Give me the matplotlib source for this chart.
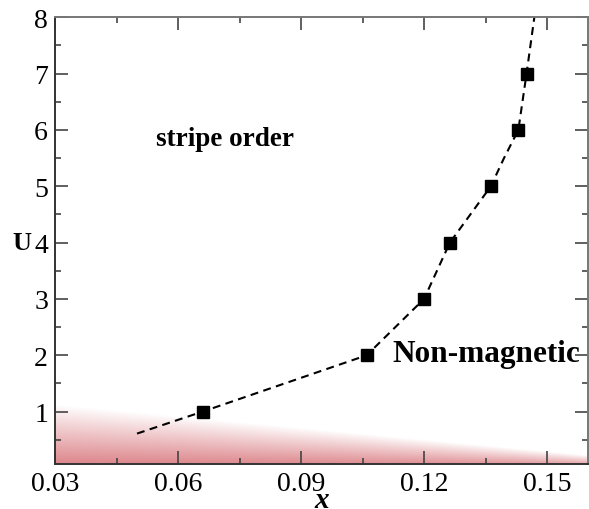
import matplotlib
matplotlib.use("Agg")
import matplotlib.pyplot as plt
import numpy as np
from matplotlib.ticker import MultipleLocator

# phase boundary data
x_pts = [0.066, 0.106, 0.120, 0.1263, 0.1363, 0.1430, 0.1450]
u_pts = [1, 2, 3, 4, 5, 6, 7]

# dashed guide line
line_x = [0.050, 0.066, 0.106, 0.120, 0.1263, 0.1363, 0.1395, 0.1430, 0.1450, 0.1469]
line_u = [0.61, 1.0, 2.0, 3.0, 4.0, 5.0, 5.5, 6.0, 7.0, 8.0]

# shaded low-U region: top edge of the red fade
shade_x = [0.03, 0.16]
shade_top = [1.12, 0.22]

plt.rcParams["font.family"] = ["Liberation Serif", "DejaVu Serif"]

fig = plt.figure(figsize=(5.89, 5.10), dpi=100)
ax = fig.add_axes([0.0934, 0.0882, 0.905, 0.876])

xlim = (0.03, 0.16)
ylim = (0.07, 8.0)

# red gradient underlay
gx = np.linspace(xlim[0], xlim[1], 400)
gy = np.linspace(0, 1.3, 300)
X, Y = np.meshgrid(gx, gy)
top = np.interp(X, shade_x, shade_top)
frac = np.clip(1 - Y / top, 0, 1)
rgba = np.zeros(X.shape + (4,))
rgba[..., 0] = 0.80
rgba[..., 1] = 0.30
rgba[..., 2] = 0.33
rgba[..., 3] = 0.72 * frac ** 0.95
ax.imshow(rgba, extent=(xlim[0], xlim[1], 0, 1.3), origin="lower",
          aspect="auto", zorder=0, interpolation="bilinear")

ax.plot(line_x, line_u, color="black", lw=1.5, ls=(0, (3.8, 2.6)), zorder=2)
ax.plot(x_pts, u_pts, ls="none", marker="s", ms=9, color="black", zorder=3)

ax.text(0.0546, 5.74, "stripe order", fontsize=19.5, fontweight="bold")
ax.text(0.1122, 1.89, "Non-magnetic", fontsize=22.5, fontweight="bold")

ax.set_xlim(*xlim)
ax.set_ylim(*ylim)
ax.xaxis.set_major_locator(MultipleLocator(0.03))
ax.xaxis.set_minor_locator(MultipleLocator(0.015))
ax.yaxis.set_major_locator(MultipleLocator(1))
ax.yaxis.set_minor_locator(MultipleLocator(0.5))
ax.set_xticks([0.03, 0.06, 0.09, 0.12, 0.15])
ax.set_xticklabels(["0.03", "0.06", "0.09", "0.12", "0.15"])
ax.set_yticks(range(1, 9))

ax.tick_params(which="both", direction="in", top=True, right=True,
               labelsize=20, color="#444444", width=1.2)
ax.tick_params(which="major", length=9.5, pad=5)
ax.tick_params(which="minor", length=4.5)
for side in ["left", "bottom"]:
    ax.spines[side].set_color("#333333")
    ax.spines[side].set_linewidth(1.4)
for side in ["top", "right"]:
    ax.spines[side].set_color("#777777")
    ax.spines[side].set_linewidth(1.4)

ax.set_xlabel("x", fontsize=21, fontweight="bold", style="italic", va="top")
ax.xaxis.set_label_coords(0.5, -0.05)
ax.set_ylabel("U", fontsize=19, fontweight="bold", rotation=0, va="center")
ax.yaxis.set_label_coords(-0.062, 0.496)

fig.savefig("out.png", dpi=100)
